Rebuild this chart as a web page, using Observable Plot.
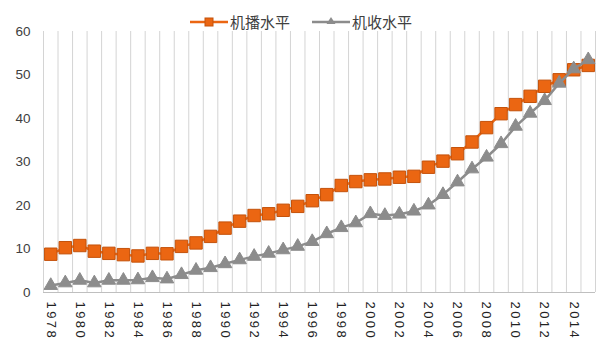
<!DOCTYPE html>
<html>
<head>
<meta charset="utf-8">
<script src="https://cdn.jsdelivr.net/npm/d3@7"></script>
<script src="https://cdn.jsdelivr.net/npm/@observablehq/plot@0.6"></script>
<style>
  body { margin: 0; background: #fff; }
  #wrap { position: relative; width: 605px; height: 354px; font-family: "Liberation Sans", Arial, sans-serif; }
  #legend { position: absolute; top: 12px; left: 190px; display: flex; align-items: center; font-family: "Noto Sans CJK SC", sans-serif; font-size: 15px; color: #404040; line-height: 20px; }
  #legend .item { display: flex; align-items: center; }
  #legend svg { display: block; }
  .xlab text { letter-spacing: 2.4px; }
</style>
</head>
<body>
<div id="wrap">
  <div id="legend"></div>
  <div id="chart"></div>
</div>
<script>
const years = [1978,1979,1980,1981,1982,1983,1984,1985,1986,1987,1988,1989,1990,1991,1992,1993,1994,1995,1996,1997,1998,1999,2000,2001,2002,2003,2004,2005,2006,2007,2008,2009,2010,2011,2012,2013,2014,2015];
const sowing = [8.8,10.3,10.8,9.5,9.0,8.7,8.4,9.0,8.9,10.6,11.4,12.9,14.8,16.4,17.7,18.1,18.9,19.8,21.1,22.5,24.6,25.5,25.9,26.1,26.5,26.7,28.8,30.2,31.9,34.6,37.9,41.1,43.2,45.1,47.4,48.9,51.2,52.2];
const harvest = [1.6,2.2,2.8,2.2,2.8,2.8,2.9,3.4,3.1,4.1,5.1,5.7,6.6,7.5,8.3,9.0,9.8,10.6,11.7,13.5,14.9,16.0,18.1,17.7,18.0,18.7,20.1,22.5,25.4,28.4,31.1,34.2,38.2,41.2,44.1,48.1,51.4,53.5];
const seriesNames = ["机播水平", "机收水平"];
const yTicks = [0,10,20,30,40,50,60];
const xTicks = [1978,1980,1982,1984,1986,1988,1990,1992,1994,1996,1998,2000,2002,2004,2006,2008,2010,2012,2014];

const orange = "#EB6612", orangeEdge = "#C4520B", gray = "#8C8C8C";

const dataS = years.map((y, i) => ({year: y, v: sowing[i]}));
const dataH = years.map((y, i) => ({year: y, v: harvest[i]}));
const bounds = years.map(y => y - 0.5).concat([years[years.length - 1] + 0.5]);

const chart = Plot.plot({
  width: 605,
  height: 354,
  marginLeft: 43,
  marginRight: 10,
  marginTop: 31,
  marginBottom: 62,
  style: {fontFamily: "'Liberation Sans', Arial, sans-serif", fontSize: "13px", color: "#404040", background: "#fff"},
  x: {type: "linear", domain: [years[0] - 0.5, years[years.length - 1] + 0.5]},
  y: {domain: [0, 60]},
  marks: [
    Plot.ruleX(bounds, {stroke: "#d4d4d4", strokeWidth: 1}),
    Plot.ruleY([0], {stroke: "#bfbfbf", strokeWidth: 1}),
    Plot.axisY({ticks: yTicks, tickSize: 0, tickPadding: 13, fontSize: 13.5, label: null}),
    Plot.axisX({ticks: xTicks, tickSize: 0, tickPadding: 9, tickRotate: 90, tickFormat: d => String(d), fontSize: 13, label: null, className: "xlab", fill: "#222"}),
    Plot.line(dataS, {x: "year", y: "v", stroke: orange, strokeWidth: 2.5}),
    Plot.dot(dataS, {x: "year", y: "v", symbol: "square", r: 7, fill: orange, stroke: orangeEdge, strokeWidth: 1}),
    Plot.line(dataH, {x: "year", y: "v", stroke: gray, strokeWidth: 2.5}),
    Plot.dot(dataH, {x: "year", y: "v", symbol: "triangle", r: 5, fill: gray, stroke: gray, strokeWidth: 1})
  ]
});
document.getElementById("chart").appendChild(chart);

// legend
const legend = document.getElementById("legend");
const sym = [
  `<svg width="38" height="20"><line x1="0" y1="10" x2="38" y2="10" stroke="${orange}" stroke-width="2.5"/><rect x="15" y="6" width="8" height="8" fill="${orange}" stroke="${orangeEdge}"/></svg>`,
  `<svg width="38" height="20"><line x1="0" y1="10" x2="38" y2="10" stroke="${gray}" stroke-width="2.5"/><path d="M19,5 L23.5,12 L14.5,12 Z" fill="${gray}"/></svg>`
];
seriesNames.forEach((name, i) => {
  const it = document.createElement("div");
  it.className = "item";
  it.style.marginRight = i === 0 ? "22px" : "0";
  it.innerHTML = sym[i] + `<span style="margin-left:2px">${name}</span>`;
  legend.appendChild(it);
});
</script>
</body>
</html>
